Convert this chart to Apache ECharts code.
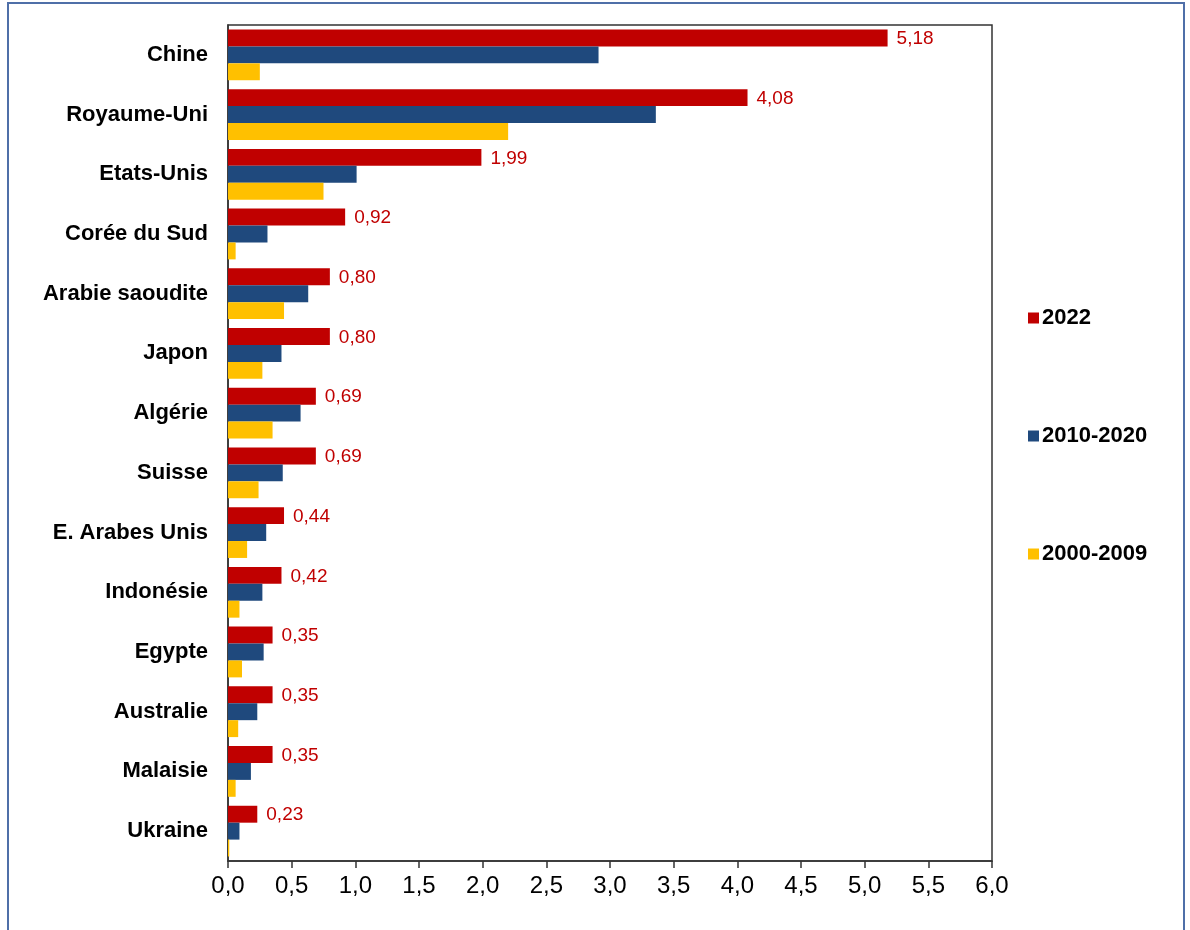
<!DOCTYPE html>
<html>
<head>
<meta charset="utf-8">
<script src="https://cdn.jsdelivr.net/npm/echarts@6/dist/echarts.min.js"></script>
<style>
  html, body { margin: 0; padding: 0; background: #fff; }
  #myChart { width: 1190px; height: 930px; }
</style>
</head>
<body>
<div id="myChart"></div>
<script>
// pays (du haut vers le bas)
var categories = ['Chine', 'Royaume-Uni', 'Etats-Unis', 'Corée du Sud', 'Arabie saoudite', 'Japon', 'Algérie',
  'Suisse', 'E. Arabes Unis', 'Indonésie', 'Egypte', 'Australie', 'Malaisie', 'Ukraine']
var seriesNames = ['2022', '2010-2020', '2000-2009']
var data2022 = [5.18, 4.08, 1.99, 0.92, 0.80, 0.80, 0.69, 0.69, 0.44, 0.42, 0.35, 0.35, 0.35, 0.23]
var data2010 = [2.91, 3.36, 1.01, 0.31, 0.63, 0.42, 0.57, 0.43, 0.30, 0.27, 0.28, 0.23, 0.18, 0.09]
var data2000 = [0.25, 2.20, 0.75, 0.06, 0.44, 0.27, 0.35, 0.24, 0.15, 0.09, 0.11, 0.08, 0.06, 0.01]

var colors = ['#C00000', '#1F497D', '#FFC000']
var font = 'Liberation Sans, Arial, sans-serif'

var fmt = function (v, d) { return v.toFixed(d).replace('.', ',') }

var chart = echarts.init(document.getElementById('myChart'))
var option = {
  animation: false,
  color: colors,
  graphic: [{
    type: 'rect',
    shape: { x: 8, y: 3, width: 1176, height: 940 },
    style: { fill: 'none', stroke: '#4F6FA8', lineWidth: 2 },
    silent: true
  }],
  grid: {
    left: 228,
    right: 198,
    top: 25,
    bottom: 69,
    show: true,
    borderColor: '#333',
    borderWidth: 1.5,
    containLabel: false
  },
  legend: {
    orient: 'vertical',
    left: 1023,
    top: 302,
    itemGap: 96,
    itemWidth: 11,
    itemHeight: 11,
    icon: 'rect',
    data: seriesNames,
    textStyle: { fontFamily: font, fontWeight: 'bold', fontSize: 22, color: '#000', padding: [0, 0, 0, -2] }
  },
  xAxis: {
    type: 'value',
    min: 0,
    max: 6,
    interval: 0.5,
    splitLine: { show: false },
    axisLine: { show: true, lineStyle: { color: '#333', width: 1.5 } },
    axisTick: { show: true, length: 7, lineStyle: { color: '#333', width: 1.5 } },
    axisLabel: {
      fontFamily: font, fontSize: 24, color: '#000', margin: 13,
      formatter: function (v) { return fmt(v, 1) }
    }
  },
  yAxis: {
    type: 'category',
    inverse: true,
    data: categories,
    axisLine: { show: true, lineStyle: { color: '#333', width: 1.5 } },
    axisTick: { show: false },
    axisLabel: { fontFamily: font, fontWeight: 'bold', fontSize: 22, color: '#000', margin: 20 }
  },
  series: [{
    name: seriesNames[0],
    type: 'bar',
    data: data2022,
    barGap: '0%',
    barCategoryGap: '15%',
    label: {
      show: true,
      position: 'right',
      distance: 9,
      offset: [0, 1],
      fontFamily: font,
      fontSize: 19,
      color: '#C00000',
      formatter: function (p) { return fmt(p.value, 2) }
    }
  }, {
    name: seriesNames[1],
    type: 'bar',
    data: data2010,
    barGap: '0%',
    barCategoryGap: '15%'
  }, {
    name: seriesNames[2],
    type: 'bar',
    data: data2000,
    barGap: '0%',
    barCategoryGap: '15%'
  }]
}
chart.setOption(option)
</script>
</body>
</html>
